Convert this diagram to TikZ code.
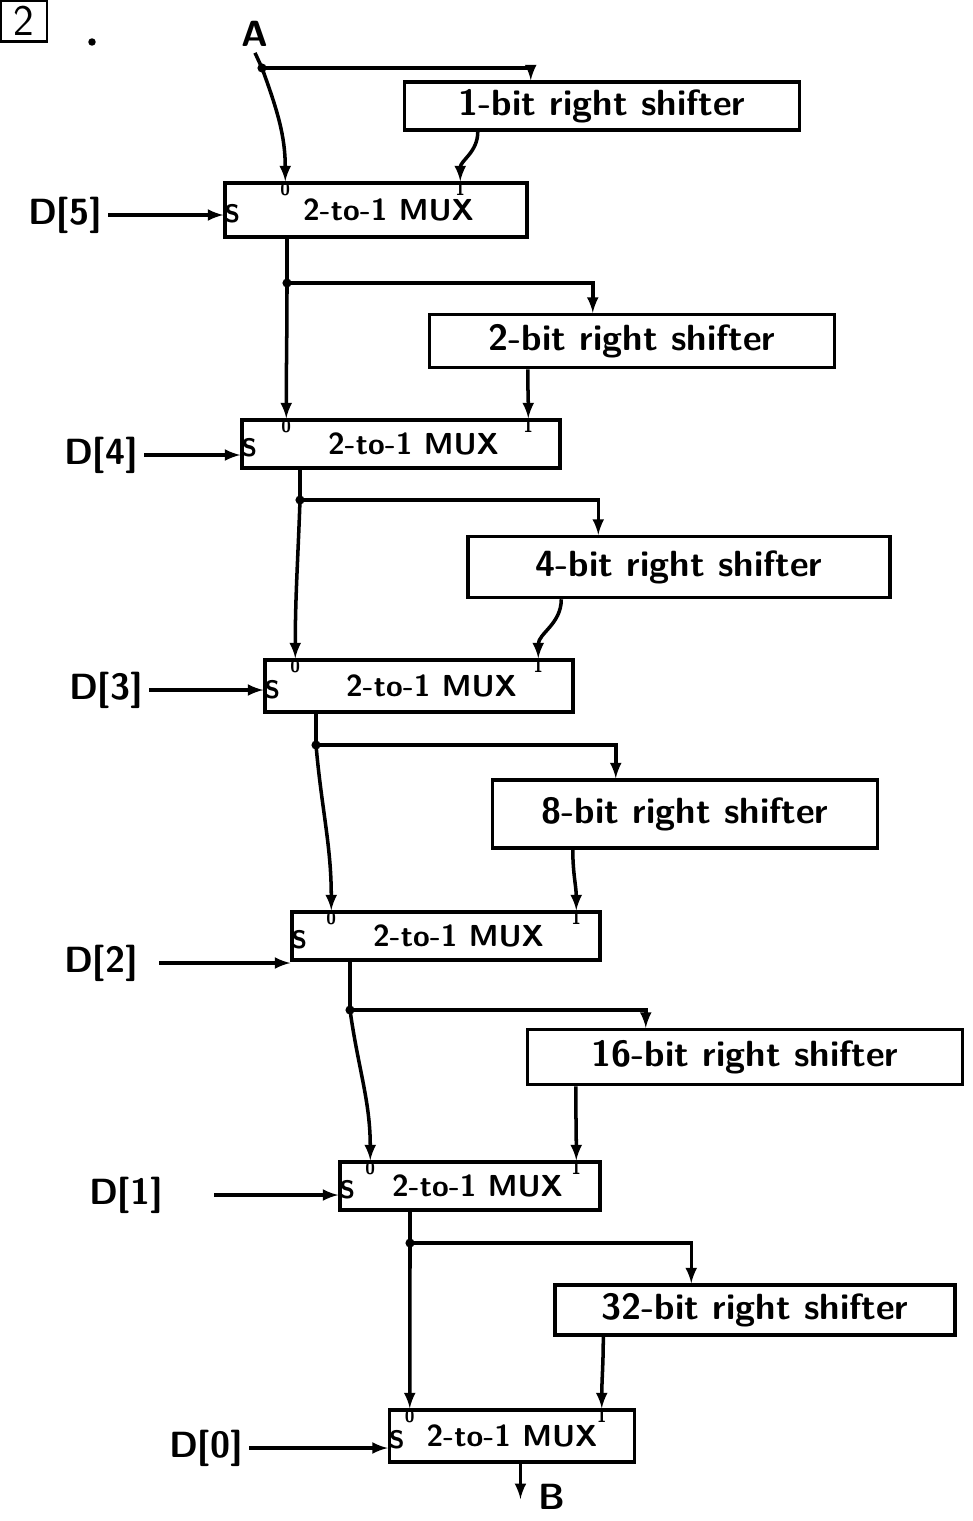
\documentclass[tikz,border=0pt]{standalone}
\usepackage{tikz}
\usetikzlibrary{arrows,positioning,shapes,calc}

\tikzset{
  blk/.style={draw, line width=2pt, inner sep=0pt, font=\sffamily\bfseries\huge},
  muxtext/.style={font=\sffamily\bfseries\LARGE},
  pinlbl/.style={inner sep=0.5pt, font=\sffamily\bfseries\normalsize},
  lbl/.style={font=\sffamily\bfseries\huge},
  wire/.style={line width=2pt, -latex},
  line/.style={line width=2pt},
}

\begin{document}
\begin{tikzpicture}[x=0.02cm, y=-0.02cm]
  \useasboundingbox (0,0) rectangle (973,1521);

  % 問題番号
  \node[draw, line width=1.6pt, minimum width=0.92cm, minimum height=0.8cm, font=\sffamily\Huge] (num) at (24,21) {2};
  \node[circle, fill, inner sep=1.5pt] (dot) at (92,42) {};

  % 入力と出力
  \node[lbl] (A) at (255,34) {A};
  \node[lbl] (B) at (552,1497) {B};
  \coordinate (jA) at (262,68);

  % シフタ
  \node[blk, minimum width=7.9cm, minimum height=0.96cm] (sh1) at (602,106) {1-bit right shifter};
  \node[blk, minimum width=8.1cm, minimum height=1.06cm] (sh2) at (632,341) {2-bit right shifter};
  \node[blk, minimum width=8.44cm, minimum height=1.22cm] (sh4) at (679,567) {4-bit right shifter};
  \node[blk, minimum width=7.7cm, minimum height=1.36cm] (sh8) at (685,814) {8-bit right shifter};
  \node[blk, minimum width=8.7cm, minimum height=1.1cm] (sh16) at (745,1057) {16-bit right shifter};
  \node[blk, minimum width=8.0cm, minimum height=1.0cm] (sh32) at (755,1310) {32-bit right shifter};

  % マルチプレクサ
  \node[blk, muxtext, minimum width=6.04cm, minimum height=1.08cm] (mux5) at (376,210) {\hspace{0.5cm}2-to-1 MUX};
  \node[blk, muxtext, minimum width=6.36cm, minimum height=0.96cm] (mux4) at (401,444) {\hspace{0.5cm}2-to-1 MUX};
  \node[blk, muxtext, minimum width=6.16cm, minimum height=1.04cm] (mux3) at (419,686) {\hspace{0.5cm}2-to-1 MUX};
  \node[blk, muxtext, minimum width=6.16cm, minimum height=0.96cm] (mux2) at (446,936) {\hspace{0.5cm}2-to-1 MUX};
  \node[blk, muxtext, minimum width=5.2cm, minimum height=0.96cm] (mux1) at (470,1186) {\hspace{0.3cm}2-to-1 MUX};
  \node[blk, muxtext, minimum width=4.9cm, minimum height=1.04cm] (mux0) at (512,1436) {2-to-1 MUX\hspace{0.3cm}};

  \foreach \k/\a/\b in {5/62/237, 4/46/288, 3/32/275, 2/41/286, 1/32/238, 0/22/214} {
    \node[pinlbl, below] (z\k) at ($(mux\k.north west)+(\a,0)$) {0};
    \node[pinlbl, below] (o\k) at ($(mux\k.north west)+(\b,0)$) {1};
    \node[pinlbl, right, font=\sffamily\bfseries\Large] (s\k) at ($(mux\k.west)+(0,4)$) {S};
  }

  % 選択信号
  \node[lbl] (d5) at (65,215) {D[5]};
  \node[lbl] (d4) at (101,455) {D[4]};
  \node[lbl] (d3) at (106,690) {D[3]};
  \node[lbl] (d2) at (101,963) {D[2]};
  \node[lbl] (d1) at (126,1195) {D[1]};
  \node[lbl] (d0) at (206,1448) {D[0]};
  \foreach \k/\g in {5/0,4/0,3/0,2/0.3,1/0.9,0/0}
    \draw[wire, shorten <=\g cm] (d\k.east) -- (d\k.east -| mux\k.west);

  % 分岐点
  \coordinate (j5) at (287,283);
  \coordinate (j4) at (300,500);
  \coordinate (j3) at (316,745);
  \coordinate (j2) at (350,1010);
  \coordinate (j1) at (410,1243);
  \draw[line] (A.south) -- (jA);
  \foreach \k in {5,...,1}
    \draw[line] (mux\k.south -| j\k) -- (j\k);
  \foreach \j in {jA,j5,j4,j3,j2,j1}
    \fill (\j) circle (2.6pt);

  % 配線
  \foreach \src/\sh/\k/\i/\u/\b in {jA/sh1/5/128/75/-70, j5/sh2/4/165/100/-90, j4/sh4/3/132/95/-92,
                                    j3/sh8/2/125/82/-85, j2/sh16/1/120/50/-82, j1/sh32/0/138/50/-90} {
    \draw[wire] (\src) -| ($(\sh.north west)+(\i,0)$);
    \draw[wire] (\src) to[out=\b,in=90] (z\k.north);
    \draw[wire] ($(\sh.south west)+(\u,0)$) to[out=-90,in=90] (o\k.north);
  }

  \coordinate (Bin) at ($(B.west)+(-12,2)$);
  \draw[wire] (mux0.south -| Bin) -- (Bin);
\end{tikzpicture}
\end{document}
